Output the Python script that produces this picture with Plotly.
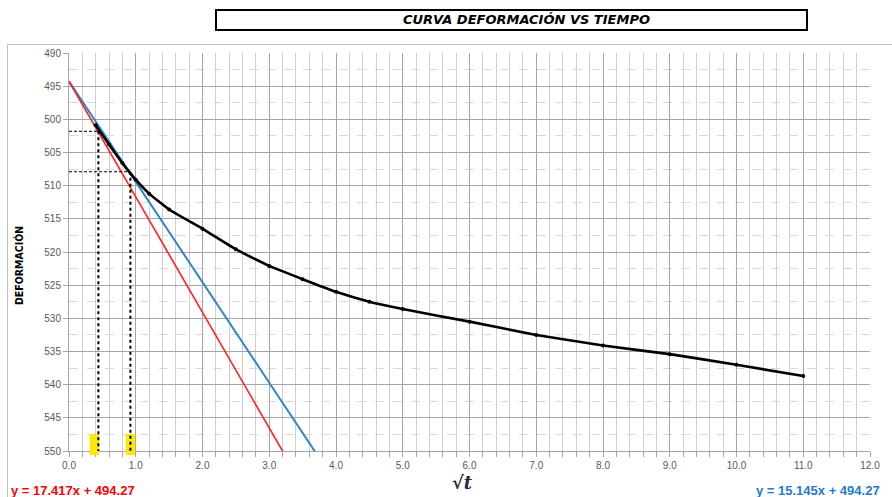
import plotly.graph_objects as go

# ---- data ----
sqrt_t = [0.4, 0.6, 0.8, 1.0, 1.2, 1.5, 2.0, 2.5, 3.0, 3.5, 4.0, 4.5, 5.0, 6.0, 7.0, 8.0, 9.0, 10.0, 11.0]
deform = [500.9, 503.8, 506.6, 509.1, 511.2, 513.6, 516.5, 519.6, 522.1, 524.1, 526.0, 527.5, 528.6, 530.5, 532.5, 534.1, 535.4, 537.0, 538.7]

red_slope, red_intercept = 17.417, 494.27
blue_slope, blue_intercept = 15.145, 494.27
trend_x = [0.0, 4.0]

# construction lines (x, y)
ref_x = [0.44, 0.92]
ref_y = [501.8, 507.9]
yellow_x = [(0.31, 0.45), (0.85, 0.99)]

x_ticks = [0, 1, 2, 3, 4, 5, 6, 7, 8, 9, 10, 11, 12]
y_ticks = [490, 495, 500, 505, 510, 515, 520, 525, 530, 535, 540, 545, 550]

W, H = 892, 497
ML, MR, MT, MB = 69, 22, 53, 46
PW, PH = W - ML - MR, H - MT - MB

def px_x(p):
    return (p - ML) / PW

def px_y(p):
    return (H - MB - p) / PH

fig = go.Figure()

fig.add_trace(go.Scatter(
    x=trend_x, y=[blue_intercept + blue_slope * v for v in trend_x],
    mode="lines", line=dict(color="#2E86C8", width=2), showlegend=False, hoverinfo="skip"))
fig.add_trace(go.Scatter(
    x=trend_x, y=[red_intercept + red_slope * v for v in trend_x],
    mode="lines", line=dict(color="#FF2020", width=1.6), showlegend=False, hoverinfo="skip"))
fig.add_trace(go.Scatter(
    x=sqrt_t, y=deform, mode="lines+markers",
    line=dict(color="#000000", width=2.6, shape="spline", smoothing=0.4),
    marker=dict(color="#000000", size=4), showlegend=False))

shapes = []
# yellow markers
for (a, b) in yellow_x:
    shapes.append(dict(type="rect", xref="x", yref="paper", x0=a, x1=b,
                       y0=px_y(455), y1=px_y(434), fillcolor="#FFE800",
                       line=dict(width=0), layer="above"))
# construction lines
for xv, yv in zip(ref_x, ref_y):
    shapes.append(dict(type="line", xref="x", yref="y", x0=0, x1=xv, y0=yv, y1=yv,
                       line=dict(color="#000000", width=1, dash="3px,2px"), layer="above"))
    shapes.append(dict(type="line", xref="x", yref="y", x0=xv, x1=xv, y0=yv, y1=550,
                       line=dict(color="#000000", width=2, dash="dot"), layer="above"))
# title box
shapes.append(dict(type="rect", xref="paper", yref="paper",
                   x0=px_x(216), x1=px_x(807), y0=px_y(30), y1=px_y(10),
                   line=dict(color="#000000", width=2), fillcolor="rgba(0,0,0,0)"))
# outer chart border
shapes.append(dict(type="rect", xref="paper", yref="paper",
                   x0=px_x(7.5), x1=px_x(905), y0=px_y(505), y1=px_y(44.5),
                   line=dict(color="#BFBFBF", width=1), fillcolor="rgba(0,0,0,0)"))

annotations = [
    dict(text="CURVA DEFORMACIÓN VS TIEMPO", xref="paper", yref="paper",
         x=px_x(526), y=px_y(20), showarrow=False, xanchor="center", yanchor="middle",
         font=dict(family="DejaVu Sans, sans-serif",
                   size=13, color="#000000", style="italic", weight="bold")),
    dict(text="DEFORMACIÓN", xref="paper", yref="paper", x=px_x(19), y=px_y(266),
         showarrow=False, textangle=-90, xanchor="center", yanchor="middle",
         font=dict(family="Liberation Sans Narrow, DejaVu Sans Condensed, sans-serif",
                   size=10.5, color="#000000", weight="bold")),
    dict(text="√<i>t</i>", xref="paper", yref="paper", x=px_x(462), y=px_y(482),
         showarrow=False, xanchor="center", yanchor="middle",
         font=dict(family="DejaVu Serif, serif", size=18, color="#1F2A44", weight="bold")),
    dict(text="y = 17.417x + 494.27", xref="paper", yref="paper", x=px_x(9), y=px_y(490),
         showarrow=False, xanchor="left", yanchor="middle",
         font=dict(family="Liberation Sans, Arial, sans-serif", size=13, color="#FF0000", weight="bold")),
    dict(text="y = 15.145x + 494.27", xref="paper", yref="paper", x=px_x(754), y=px_y(490),
         showarrow=False, xanchor="left", yanchor="middle",
         font=dict(family="Liberation Sans, Arial, sans-serif", size=13, color="#1F7BC9", weight="bold")),
]

fig.update_layout(
    width=W, height=H, margin=dict(l=ML, r=MR, t=MT, b=MB),
    paper_bgcolor="#FFFFFF", plot_bgcolor="#FFFFFF",
    shapes=shapes, annotations=annotations, showlegend=False,
    xaxis=dict(range=[0, 12], tickvals=x_ticks, ticktext=[f"{v:.1f}" for v in x_ticks],
               showgrid=True, gridcolor="#A6A6A6", gridwidth=1,
               minor=dict(dtick=0.2, showgrid=True, gridcolor="#CFCFCF", gridwidth=1,
                          ticks="outside", ticklen=5, tickcolor="#A6A6A6"),
               ticks="outside", ticklen=5, tickcolor="#A6A6A6",
               showline=True, linecolor="#A6A6A6", linewidth=1, zeroline=False,
               tickfont=dict(family="Liberation Sans, Arial, sans-serif", size=10, color="#595959"),
               mirror=False),
    yaxis=dict(range=[550, 490], tickvals=y_ticks, ticktext=[str(v) for v in y_ticks],
               showgrid=True, gridcolor="#A6A6A6", gridwidth=1,
               minor=dict(dtick=2.5, showgrid=True, gridcolor="#D9D9D9", gridwidth=1, griddash="dash"),
               ticks="outside", ticklen=5, tickcolor="#A6A6A6",
               showline=True, linecolor="#A6A6A6", linewidth=1, zeroline=False,
               tickfont=dict(family="Liberation Sans, Arial, sans-serif", size=10, color="#595959")),
)

fig.write_html("out.html")
